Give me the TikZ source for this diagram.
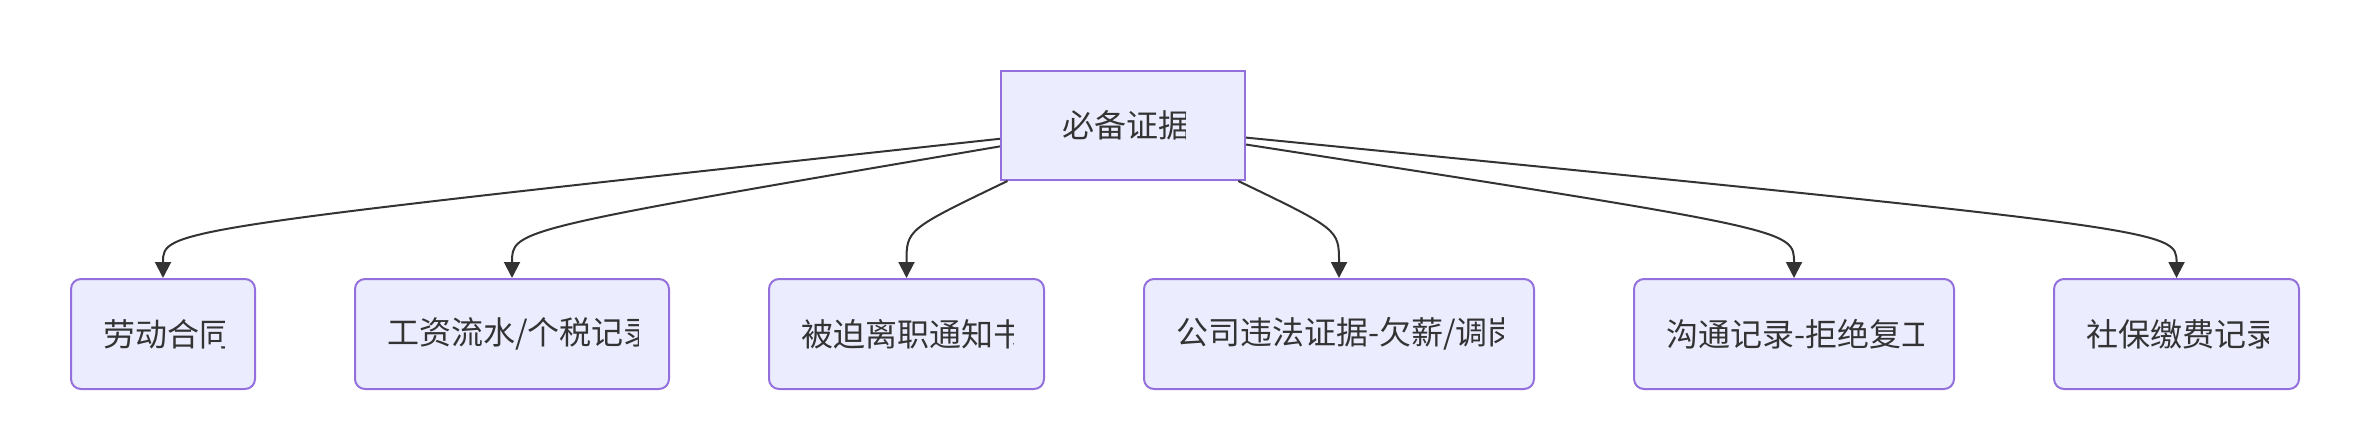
\documentclass[tikz,border=0pt]{standalone}
\usepackage{fontspec}
\newfontfamily\cjk{Noto Sans CJK SC}
\usetikzlibrary{arrows.meta}
\definecolor{boxfill}{HTML}{ECECFF}
\definecolor{boxline}{HTML}{9370DB}
\definecolor{edgeline}{HTML}{333333}
\newcommand{\evpad}{15.5pt}
\tikzset{%
  >={Triangle[width=8pt,length=8pt]},
  % Specifications for style of nodes:
  base/.style = {
    rectangle,
    draw=boxline,
    fill=boxfill,
    line width=1pt,
    inner sep=0pt,
    minimum height=55pt
  },
  % text is cut off at the inner padding, as in the picture
  label text/.style = {
    path picture={
      \clip ([xshift=\evpad]path picture bounding box.south west)
        rectangle ([xshift=-\evpad]path picture bounding box.north east);
      \node[anchor=west, draw=none, fill=none, inner sep=0pt,
        minimum width=0pt, minimum height=0pt, text=edgeline,
        font=\cjk\fontsize{16pt}{20pt}\selectfont]
        at ([xshift=\evpad]path picture bounding box.west) {#1};
    }
  },
  root/.style = {base, label text=#1},
  evidence/.style = {base, rounded corners=5pt, label text=#1},
  flow/.style = {->, line width=1pt, draw=edgeline, fill=none},
}

\begin{document}
\begin{tikzpicture}[x=0.5pt, y=-0.5pt]
  \useasboundingbox (0,0) rectangle (2354,444);
  % nodes
  {\renewcommand{\evpad}{30pt}
  \node (root) [root={必备证据}, minimum width=122pt, minimum height=54.5pt] at (1123,125.5) {};}
  \node (contract) [evidence={劳动合同}, minimum width=92pt] at (163,334) {};
  \node (salary) [evidence={工资流水/个税记录}, minimum width=157pt] at (512,334) {};
  \node (notice) [evidence={被迫离职通知书}, minimum width=137.5pt] at (906.5,334) {};
  \node (violation) [evidence={公司违法证据-欠薪/调岗}, minimum width=195pt] at (1339,334) {};
  \node (talks) [evidence={沟通记录-拒绝复工}, minimum width=160pt] at (1794,334) {};
  \node (insurance) [evidence={社保缴费记录}, minimum width=122.5pt] at (2176.5,334) {};
  % bend points between the ranks
  \coordinate (m_contract) at (163,229.5);
  \coordinate (m_salary) at (512,229.5);
  \coordinate (m_notice) at (906.5,229.5);
  \coordinate (m_violation) at (1339,229.5);
  \coordinate (m_talks) at (1794,229.5);
  \coordinate (m_insurance) at (2176.5,229.5);
  % lines
  \draw[flow] (root) .. controls (m_contract) .. (contract);
  \draw[flow] (root) .. controls (m_salary) .. (salary);
  \draw[flow] (root) .. controls (m_notice) .. (notice);
  \draw[flow] (root) .. controls (m_violation) .. (violation);
  \draw[flow] (root) .. controls (m_talks) .. (talks);
  \draw[flow] (root) .. controls (m_insurance) .. (insurance);
\end{tikzpicture}
\end{document}
